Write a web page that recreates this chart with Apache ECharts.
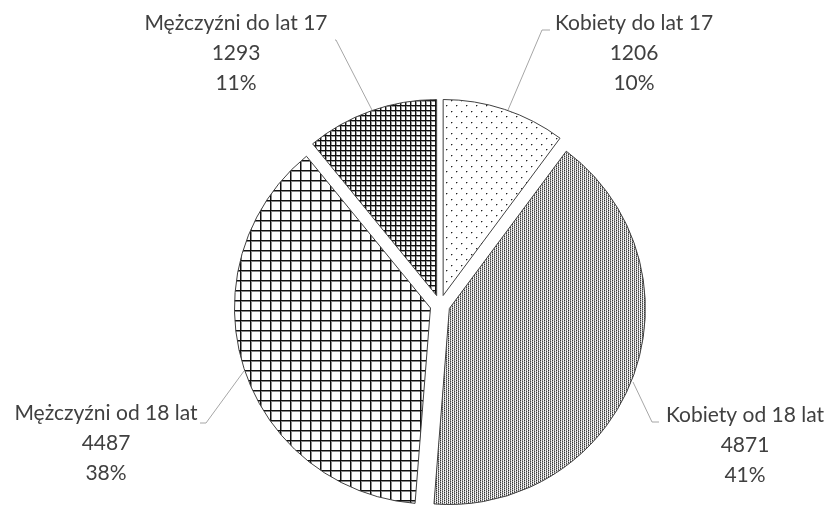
<!DOCTYPE html>
<html>
<head>
<meta charset="utf-8">
<script src="https://cdn.jsdelivr.net/npm/echarts@6/dist/echarts.min.js"></script>
<style>
  html, body { margin: 0; padding: 0; background: #fff; }
  #chart { width: 831px; height: 506px; }
</style>
</head>
<body>
<div id="chart"></div>
<script>
const categories = ['Kobiety do lat 17', 'Kobiety od 18 lat', 'Mężczyźni od 18 lat', 'Mężczyźni do lat 17'];
const values = [1206, 4871, 4487, 1293];

// label block centres and leader lines, clockwise from the top
const labelPos = [
  { x: 634, y: 53, line: [[508, 110], [542, 30], [550, 30]] },
  { x: 745, y: 445, line: [[633, 382], [652, 422], [659, 422]] },
  { x: 106, y: 443, line: [[244, 371], [206, 423], [200, 423]] },
  { x: 236, y: 53, line: [[372, 110], [336, 40], [335, 40]] }
];

const CX = 440, CY = 305, R = 196, EXPLODE = 10;

function makePattern(w, h, draw) {
  const c = document.createElement('canvas');
  c.width = w;
  c.height = h;
  const ctx = c.getContext('2d');
  ctx.fillStyle = '#fff';
  ctx.fillRect(0, 0, w, h);
  draw(ctx);
  return { image: c, repeat: 'repeat' };
}

function px(ctx, x, y, col) {
  ctx.fillStyle = col;
  ctx.fillRect(x, y, 1, 1);
}

const dots = makePattern(10, 11, function(ctx) {
  [[1, 1], [6, 6]].forEach(function(p) {
    px(ctx, p[0], p[1], '#222');
    px(ctx, p[0] + 1, p[1], '#aaa');
    px(ctx, p[0], p[1] + 1, '#bbb');
  });
});

const dense = makePattern(4, 2, function(ctx) {
  const rows = [
    ['#333', '#ddd', '#888', '#fff'],
    ['#999', '#fff', '#444', '#ddd']
  ];
  rows.forEach(function(r, y) {
    r.forEach(function(col, x) { px(ctx, x, y, col); });
  });
});

const bigGrid = makePattern(10, 10, function(ctx) {
  ctx.fillStyle = '#111';
  ctx.fillRect(0, 0, 1, 10);
  ctx.fillRect(0, 0, 10, 1);
  ctx.fillStyle = '#888';
  ctx.fillRect(1, 1, 1, 9);
  ctx.fillRect(1, 1, 9, 1);
});

const smallGrid = makePattern(5, 5, function(ctx) {
  ctx.fillStyle = '#111';
  ctx.fillRect(0, 0, 1, 5);
  ctx.fillRect(0, 0, 5, 1);
  ctx.fillStyle = '#999';
  ctx.fillRect(1, 1, 1, 4);
  ctx.fillRect(1, 1, 4, 1);
});

const fills = [dots, dense, bigGrid, smallGrid];

const total = values.reduce(function(a, b) { return a + b; }, 0);

// each slice is its own pie series, pushed out along its bisector
const series = [];
let cum = 0;
values.forEach(function(v, i) {
  const mid = (cum + v / 2) / total * Math.PI * 2;
  cum += v;
  series.push({
    type: 'pie',
    center: [CX + EXPLODE * Math.sin(mid), CY - EXPLODE * Math.cos(mid)],
    radius: R,
    startAngle: 90,
    clockwise: true,
    percentPrecision: 0,
    silent: true,
    emphasis: { disabled: true },
    labelLayout: function(params) {
      const p = labelPos[params.dataIndex];
      return {
        x: p.x,
        y: p.y,
        align: 'center',
        verticalAlign: 'middle',
        labelLinePoints: p.line
      };
    },
    data: categories.map(function(name, j) {
      const own = j === i;
      return {
        name: name,
        value: values[j],
        itemStyle: own
          ? { color: fills[j], borderColor: '#404040', borderWidth: 1 }
          : { color: 'rgba(0,0,0,0)', borderWidth: 0 },
        label: {
          show: own,
          formatter: '{b}\n{c}\n{d}%',
          color: '#404040',
          fontFamily: 'Lato',
          fontSize: 21,
          lineHeight: 30,
          align: 'center',
          overflow: 'none',
          width: 220
        },
        labelLine: {
          show: own,
          lineStyle: { color: '#a6a6a6', width: 1 }
        }
      };
    })
  });
});

const chart = echarts.init(document.getElementById('chart'), null, { renderer: 'canvas' });
chart.setOption({
  animation: false,
  series: series
});
</script>
</body>
</html>
